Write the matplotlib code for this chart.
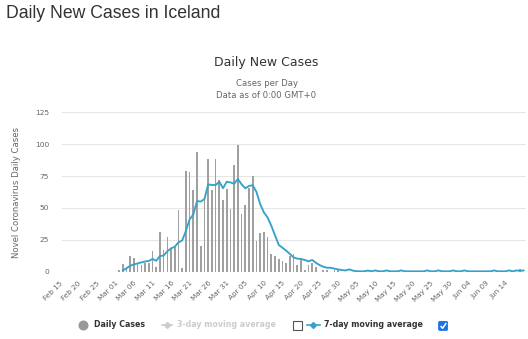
import matplotlib
matplotlib.use("Agg")
import matplotlib.pyplot as plt
import matplotlib.transforms as mtransforms
from matplotlib.patches import Rectangle, FancyBboxPatch
from matplotlib.lines import Line2D
import numpy as np
import pandas as pd

# ---- data -------------------------------------------------------------
categories = pd.date_range("2020-02-15", "2020-06-18", freq="D").strftime("%b %d").tolist()

tick_labels = ["Feb 15", "Feb 20", "Feb 25", "Mar 01", "Mar 06", "Mar 11", "Mar 16",
               "Mar 21", "Mar 26", "Mar 31", "Apr 05", "Apr 10", "Apr 15", "Apr 20",
               "Apr 25", "Apr 30", "May 05", "May 10", "May 15", "May 20", "May 25",
               "May 30", "Jun 04", "Jun 09", "Jun 14"]

# daily new cases, Feb 15 .. Jun 18
daily_cases = [0] * 15 + [
    1, 6, 4, 12, 11, 7, 5, 7, 7, 16,
    4, 31, 17, 27, 18, 19, 48, 3, 79, 78,
    64, 94, 20, 56, 88, 64, 88, 72, 56, 65,
    49, 84, 99, 45, 52, 66, 75, 24, 30, 31,
    27, 14, 12, 10, 8, 7, 12, 14, 5, 10,
    1, 5, 7, 4, 0, 1, 1, 0, 1, 1,
] + [0] * 48 + [2, 0]

# 7-day moving average, Mar 02 .. Jun 18
ma7 = [
    1.0, 2.6, 4.7, 5.7, 6.5, 7.3, 8.0, 8.4, 10.0, 8.6,
    12.3, 12.6, 16.0, 18.3, 19.6, 23.0, 24.5, 32.0, 41.0, 45.0,
    55.4, 55.0, 57.0, 68.5, 68.0, 68.0, 70.5, 65.5, 70.5, 70.0,
    69.0, 72.7, 68.5, 65.4, 67.3, 67.8, 62.5, 53.0, 46.5, 42.5,
    36.0, 28.5, 21.0, 18.8, 16.5, 13.9, 11.2, 10.2, 10.0, 9.2,
    8.1, 9.2, 7.0, 5.2, 3.9, 3.1, 3.1, 2.4, 1.8, 1.3,
    1.0, 1.8, 0.8, 0.4, 0.3, 0.3, 0.9, 0.3, 1.0, 0.3,
    0.3, 1.0, 0.3, 0.3, 0.3, 1.0, 0.3, 0.3, 0.3, 0.3,
    0.3, 0.3, 1.0, 0.3, 0.3, 1.0, 0.3, 0.3, 0.3, 1.0,
    0.3, 0.3, 1.0, 0.3, 0.3, 0.3, 0.3, 0.3, 0.3, 0.3,
    1.0, 0.3, 0.3, 0.3, 1.0, 0.3, 1.0, 0.7, 1.0,
]
ma7_start = len(categories) - len(ma7)

y_ticks = [0, 25, 50, 75, 100, 125]

# ---- figure -----------------------------------------------------------
W, H = 528, 339
fig = plt.figure(figsize=(W / 100, H / 100), dpi=100)
fig.patch.set_facecolor("white")

def fx(x):
    return x / W

def fy(y):
    return 1 - y / H

left, right, top, bottom = 61.5, 525.7, 112.3, 271.7
ax = fig.add_axes([fx(left), fy(bottom), fx(right) - fx(left), fy(top) - fy(bottom)])

x = np.arange(len(categories))
ax.bar(x, daily_cases, width=0.45, color="#a0a0a0", zorder=2)
ax.plot(x[ma7_start:], ma7, color="#35a2cc", lw=1.35, zorder=3,
        solid_joinstyle="round", solid_capstyle="round")

ax.set_xlim(-0.5, len(categories) - 0.5)
ax.set_ylim(0, 125)
for s in ax.spines.values():
    s.set_visible(False)
for yv in y_ticks[1:]:
    ax.axhline(yv, color="#e6e6e6", lw=0.8, zorder=0)
ax.axhline(0, color="#ccd6eb", lw=0.8, zorder=1)

ax.set_yticks(y_ticks)
ax.set_yticklabels([str(v) for v in y_ticks])
ax.tick_params(axis="y", length=0, pad=9, labelsize=5.4, labelcolor="#666666")

tick_pos = [categories.index(t) for t in tick_labels]
ax.set_xticks(tick_pos)
ax.set_xticklabels(tick_labels, rotation=45, ha="right", va="top", rotation_mode="anchor")
ax.tick_params(axis="x", length=0, pad=6, labelsize=5.2, labelcolor="#666666")
shift = mtransforms.ScaledTranslation(-4 / 100, 0, fig.dpi_scale_trans)
for lab in ax.get_xticklabels():
    lab.set_transform(lab.get_transform() + shift)

ax.set_ylabel("Novel Coronavirus Daily Cases", fontsize=6.1, color="#666666")
ax.yaxis.set_label_coords((21.5 - left) / (right - left), 0.5)

# ---- titles -----------------------------------------------------------
fig.text(fx(6), fy(17.5), "Daily New Cases in Iceland", family="Liberation Sans",
         fontsize=12.7, color="#333333", va="baseline", ha="left")
fig.text(fx(266.5), fy(66), "Daily New Cases", fontsize=9, color="#333333",
         ha="center", va="baseline")
fig.text(fx(266.5), fy(86), "Cases per Day", fontsize=6.1, color="#666666",
         ha="center", va="baseline")
fig.text(fx(266.5), fy(97.5), "Data as of 0:00 GMT+0", fontsize=6.1, color="#666666",
         ha="center", va="baseline")

# ---- legend -----------------------------------------------------------
ly = 324.7
fig.add_artist(Line2D([fx(83.3)], [fy(ly)], marker="o", markersize=6.2,
                      color="#999999", transform=fig.transFigure))
fig.text(fx(94.3), fy(ly), "Daily Cases", fontsize=5.7, weight="bold",
         color="#333333", ha="left", va="center")

fig.add_artist(Line2D([fx(161.7), fx(171.7)], [fy(ly), fy(ly)], color="#cccccc",
                      lw=1.2, transform=fig.transFigure))
fig.add_artist(Line2D([fx(166.7)], [fy(ly)], marker="D", markersize=3,
                      color="#cccccc", transform=fig.transFigure))
fig.text(fx(177.3), fy(ly), "3-day moving average", fontsize=5.7, weight="bold",
         color="#cccccc", ha="left", va="center")

fig.add_artist(Rectangle((fx(292.7), fy(330.2)), 9 / W, 9 / H, transform=fig.transFigure,
                         facecolor="white", edgecolor="#555555", lw=0.8))

fig.add_artist(Line2D([fx(306.7), fx(320)], [fy(ly), fy(ly)], color="#35a2cc",
                      lw=1.2, transform=fig.transFigure))
fig.add_artist(Line2D([fx(313)], [fy(ly)], marker="D", markersize=3,
                      color="#35a2cc", transform=fig.transFigure))
fig.text(fx(324), fy(ly), "7-day moving average", fontsize=5.7, weight="bold",
         color="#333333", ha="left", va="center")

fig.add_artist(FancyBboxPatch((fx(438.6), fy(330.4)), 9 / W, 9 / H,
                              boxstyle="round,pad=0,rounding_size=0.003",
                              transform=fig.transFigure, facecolor="#1a73e8",
                              edgecolor="#1a73e8", lw=0.6))
fig.add_artist(Line2D([fx(440.6), fx(442.6), fx(446.2)],
                      [fy(326.0), fy(328.3), fy(323.0)], color="white", lw=1.1,
                      transform=fig.transFigure, solid_capstyle="butt"))

fig.savefig("out.png", dpi=100, facecolor="white")
